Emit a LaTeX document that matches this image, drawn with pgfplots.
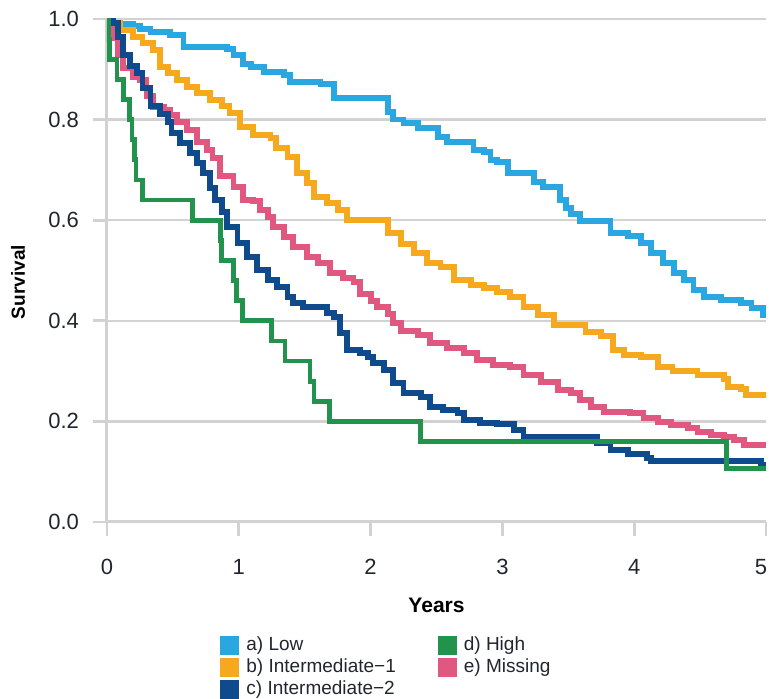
\documentclass[border=0pt]{standalone}
\usepackage{pgfplots}
\pgfplotsset{compat=1.18}
\usepackage{fontspec}
\setmainfont{Liberation Sans}
\definecolor{cLow}{HTML}{2AA7E0}
\definecolor{cInt1}{HTML}{F7A91E}
\definecolor{cInt2}{HTML}{0E4A8C}
\definecolor{cHigh}{HTML}{21934C}
\definecolor{cMiss}{HTML}{E0587F}
\definecolor{gridgray}{HTML}{D2D2D2}
\definecolor{labelgray}{HTML}{22252E}
\begin{document}
\begin{tikzpicture}
\begin{axis}[
  scale only axis, width=329.5pt, height=251.5pt,
  xmin=0, xmax=5, ymin=0, ymax=1,
  axis x line*=bottom, axis y line*=left,
  axis line style={draw=gridgray, line width=1.5pt},
  xtick={0,1,2,3,4,5}, ytick={0,0.2,0.4,0.6,0.8,1.0},
  xticklabels={0,1,2,3,4,{\kern-2.5pt 5\kern2.5pt}},
  /pgf/number format/assume math mode=true,
  yticklabel style={/pgf/number format/fixed, /pgf/number format/fixed zerofill, /pgf/number format/precision=1, xshift=-3.5pt},
  xticklabel style={yshift=-8pt},
  ymajorgrids, grid style={gridgray, line width=1.2pt},
  tick align=outside, major tick length=7pt, tick style={gridgray, line width=1.4pt},
  tick label style={font=\fontsize{11}{13}\selectfont, text=labelgray},
  xlabel={Years}, xlabel style={font=\bfseries\fontsize{10.5}{12}\selectfont, at={(axis description cs:0.5,-0.165)}, anchor=center},
  ylabel={Survival}, ylabel style={font=\bfseries\fontsize{9.5}{11}\selectfont, at={(axis description cs:-0.135,0.477)}, anchor=center},
  legend columns=2,
  legend cell align=left,
  legend image code/.code={\fill[#1,draw=none] (0pt,-4.75pt) rectangle (9.5pt,4.75pt);},
  legend style={at={(axis description cs:0.1715,-0.2227)}, anchor=north west, draw=none, fill=none, inner sep=0pt,
    font=\fontsize{9.5}{11}\selectfont, text=labelgray, row sep=0pt,
    nodes={inner sep=1pt, text height=7pt, text depth=2pt},
    /tikz/every odd column/.append style={column sep=2.5pt},
    /tikz/every even column/.append style={column sep=20pt}},
]
% a) Low
\addplot[const plot, cLow, line width=2.9pt, forget plot] coordinates {
(0,1.0) (0.05,0.992) (0.10,0.99) (0.20,0.986) (0.25,0.98) (0.33,0.974) (0.48,0.968) (0.58,0.944) (0.91,0.94) (0.96,0.928) (1.03,0.91) (1.09,0.905) (1.19,0.895) (1.34,0.889) (1.39,0.875) (1.62,0.871) (1.72,0.843) (2.05,0.843) (2.13,0.815) (2.17,0.80) (2.25,0.793) (2.36,0.783) (2.51,0.765) (2.58,0.755) (2.78,0.74) (2.86,0.736) (2.91,0.72) (2.96,0.716) (3.04,0.694) (3.24,0.676) (3.31,0.666) (3.44,0.64) (3.48,0.625) (3.52,0.612) (3.59,0.598) (3.82,0.575) (3.95,0.569) (4.05,0.555) (4.13,0.535) (4.22,0.515) (4.30,0.495) (4.38,0.481) (4.45,0.461) (4.53,0.447) (4.66,0.441) (4.81,0.435) (4.89,0.425) (4.98,0.412) (5.0,0.412)
};
% b) Intermediate-1
\addplot[const plot, cInt1, line width=2.9pt, forget plot] coordinates {
(0,1.0) (0.046,0.992) (0.10,0.978) (0.20,0.964) (0.27,0.952) (0.35,0.938) (0.40,0.905) (0.46,0.893) (0.53,0.879) (0.61,0.865) (0.68,0.853) (0.78,0.839) (0.87,0.827) (0.93,0.813) (1.01,0.785) (1.11,0.769) (1.24,0.763) (1.28,0.744) (1.37,0.726) (1.44,0.694) (1.52,0.674) (1.57,0.646) (1.67,0.634) (1.75,0.620) (1.82,0.600) (2.02,0.600) (2.13,0.575) (2.23,0.553) (2.33,0.535) (2.43,0.515) (2.53,0.507) (2.63,0.481) (2.76,0.471) (2.86,0.465) (2.96,0.457) (3.06,0.447) (3.16,0.427) (3.27,0.412) (3.39,0.392) (3.52,0.392) (3.63,0.378) (3.75,0.370) (3.84,0.342) (3.92,0.332) (4.05,0.328) (4.18,0.308) (4.29,0.300) (4.48,0.292) (4.68,0.284) (4.71,0.268) (4.81,0.264) (4.85,0.252) (5.0,0.246)
};
% e) Missing
\addplot[const plot, cMiss, line width=2.9pt, forget plot] coordinates {
(0,1.0) (0.023,0.984) (0.053,0.962) (0.084,0.928) (0.12,0.903) (0.20,0.885) (0.25,0.879) (0.30,0.847) (0.35,0.825) (0.43,0.819) (0.48,0.809) (0.53,0.795) (0.61,0.779) (0.68,0.755) (0.76,0.740) (0.80,0.724) (0.86,0.688) (0.96,0.666) (1.03,0.640) (1.11,0.638) (1.16,0.620) (1.22,0.606) (1.26,0.586) (1.34,0.567) (1.41,0.547) (1.52,0.527) (1.60,0.515) (1.69,0.495) (1.79,0.485) (1.87,0.477) (1.92,0.453) (2.00,0.439) (2.05,0.427) (2.13,0.414) (2.17,0.396) (2.23,0.380) (2.36,0.372) (2.45,0.356) (2.58,0.346) (2.71,0.336) (2.81,0.322) (2.93,0.312) (3.06,0.308) (3.16,0.292) (3.29,0.278) (3.42,0.262) (3.52,0.256) (3.59,0.243) (3.67,0.229) (3.77,0.219) (3.97,0.217) (4.07,0.207) (4.18,0.199) (4.28,0.193) (4.41,0.187) (4.48,0.179) (4.58,0.173) (4.68,0.169) (4.76,0.163) (4.83,0.153) (5.0,0.153)
};
% c) Intermediate-2
\addplot[const plot, cInt2, line width=2.9pt, forget plot] coordinates {
(0,1.0) (0.046,0.992) (0.084,0.964) (0.12,0.928) (0.175,0.907) (0.23,0.893) (0.27,0.863) (0.33,0.827) (0.40,0.811) (0.46,0.795) (0.49,0.773) (0.555,0.753) (0.63,0.734) (0.68,0.714) (0.73,0.694) (0.78,0.664) (0.82,0.640) (0.87,0.616) (0.91,0.586) (0.99,0.555) (1.06,0.527) (1.14,0.501) (1.22,0.481) (1.29,0.467) (1.37,0.447) (1.41,0.435) (1.49,0.427) (1.67,0.416) (1.72,0.408) (1.77,0.376) (1.82,0.342) (1.92,0.336) (1.98,0.328) (2.02,0.316) (2.10,0.302) (2.17,0.276) (2.25,0.256) (2.38,0.249) (2.45,0.229) (2.55,0.223) (2.66,0.217) (2.71,0.203) (2.83,0.197) (2.96,0.195) (3.09,0.183) (3.16,0.169) (3.65,0.169) (3.72,0.157) (3.82,0.143) (3.95,0.135) (4.10,0.127) (4.13,0.121) (4.94,0.121) (4.96,0.113) (5.0,0.113)
};
% d) High
\addplot[const plot, cHigh, line width=2.4pt, forget plot] coordinates {
(0,1.0) (0.01,0.96) (0.02,0.92) (0.076,0.88) (0.125,0.84) (0.17,0.80) (0.19,0.76) (0.21,0.72) (0.22,0.68) (0.27,0.64) (0.65,0.60) (0.86,0.56) (0.87,0.52) (0.96,0.48) (0.98,0.44) (1.03,0.40) (1.25,0.36) (1.35,0.32) (1.54,0.28) (1.57,0.24) (1.69,0.20) (2.38,0.16) (4.70,0.107) (5.0,0.107)
};
\addlegendimage{fill=cLow}\addlegendentry{a) Low}
\addlegendimage{fill=cHigh}\addlegendentry{d) High}
\addlegendimage{fill=cInt1}\addlegendentry{b) Intermediate−1}
\addlegendimage{fill=cMiss}\addlegendentry{e) Missing}
\addlegendimage{fill=cInt2}\addlegendentry{c) Intermediate−2}
\end{axis}
\pgfresetboundingbox
\useasboundingbox (-53.5pt,-88.5pt) rectangle (331pt,261pt);
\end{tikzpicture}
\end{document}
